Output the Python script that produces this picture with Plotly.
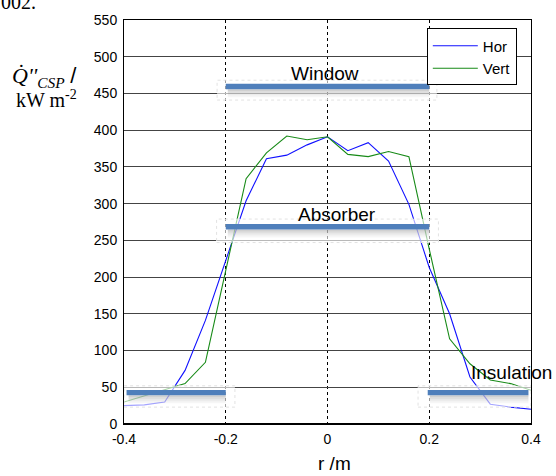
import plotly.graph_objects as go

# ---- data ----
r = [-0.4, -0.36, -0.32, -0.28, -0.24, -0.2, -0.16, -0.12, -0.08, -0.04, 0,
     0.04, 0.08, 0.12, 0.16, 0.2, 0.24, 0.28, 0.32, 0.36, 0.4]
hor = [25, 26, 30, 73, 141, 224, 304, 361, 366, 380, 391,
       372, 383, 358, 299, 213, 150, 64, 27, 23, 20]
vert = [30, 38, 46, 55, 84, 209, 334, 369, 392, 387, 391,
        367, 364, 371, 364, 238, 116, 82, 60, 55, 46]

bar_x0 = [-0.2, -0.2, -0.395, 0.197]
bar_x1 = [0.2, 0.2, -0.2, 0.395]
bar_y = [459.5, 268.6, 42.7, 42.7]

box_x0 = [-0.217, -0.218, -0.4, 0.178]
box_x1 = [0.215, 0.218, -0.182, 0.4]
box_y0 = [441, 247, 23, 23]
box_y1 = [468, 279, 52, 52]

label_text = ["Window", "Absorber", "Insulation"]
label_x = [-0.004, 0.018, 0.362]
label_y = [476.5, 285.5, 70]

x_ticks = [-0.4, -0.2, 0, 0.2, 0.4]
x_ticktext = ["-0.4", "-0.2", "0", "0.2", "0.4"]

fig = go.Figure()
fig.add_trace(go.Scatter(x=r, y=hor, mode="lines", name="Hor",
                         line=dict(color="#1010ff", width=1.1)))
fig.add_trace(go.Scatter(x=r, y=vert, mode="lines", name="Vert",
                         line=dict(color="#178a17", width=1.1)))

shapes = []
# semi-transparent white boxes (pasted images)
for x0, x1, y0, y1 in zip(box_x0, box_x1, box_y0, box_y1):
    shapes.append(dict(type="rect", xref="x", yref="y", x0=x0, x1=x1, y0=y0, y1=y1,
                       fillcolor="rgba(255,255,255,0.62)",
                       line=dict(color="#e2e2e2", width=1, dash="dot"), layer="above"))
# bars with soft shadow
half = 3.7
px = 1.355
for x0, x1, y in zip(bar_x0, bar_x1, bar_y):
    for k, op in enumerate([0.32, 0.22, 0.13, 0.06]):
        shapes.append(dict(type="rect", xref="x", yref="y", x0=x0 + 0.004, x1=x1,
                           y0=y - half - (k + 1) * 2 * px, y1=y - half - k * 2 * px,
                           fillcolor=f"rgba(110,110,110,{op})", line=dict(width=0),
                           layer="above"))
    shapes.append(dict(type="rect", xref="x", yref="y", x0=x0, x1=x1,
                       y0=y - half, y1=y + half,
                       fillcolor="#4f7fbb", line=dict(width=0), layer="above"))
# thick bottom axis
shapes.append(dict(type="line", xref="paper", yref="paper", x0=0, x1=1, y0=0, y1=0,
                   line=dict(color="black", width=2), layer="above"))

annotations = []
for t, x, y in zip(label_text, label_x, label_y):
    annotations.append(dict(text=t, x=x, y=y, xref="x", yref="y", showarrow=False,
                            xanchor="center", yanchor="middle",
                            font=dict(family="Liberation Sans, Arial", size=19, color="black")))

# y axis title (two lines)
annotations.append(dict(text="<i>Q̇''<sub>CSP</sub></i> <span style='font-family:Liberation Sans'>/</span>",
                        xref="paper", yref="paper", x=-0.195, y=0.86,
                        xanchor="center", yanchor="middle", showarrow=False,
                        font=dict(family="Liberation Serif, Times New Roman", size=22, color="black")))
annotations.append(dict(text="kW m<sup>-2</sup>",
                        xref="paper", yref="paper", x=-0.19, y=0.805,
                        xanchor="center", yanchor="middle", showarrow=False,
                        font=dict(family="Liberation Serif, Times New Roman", size=20, color="black")))
# x axis title
annotations.append(dict(text="r /m", xref="paper", yref="paper", x=0.516, y=-0.098,
                        xanchor="center", yanchor="middle", showarrow=False,
                        font=dict(family="Liberation Sans, Arial", size=19, color="black")))
# clipped text fragment at page top
annotations.append(dict(text="002.", xref="paper", yref="paper", x=-0.212, y=1.012,
                        xanchor="right", yanchor="bottom", showarrow=False,
                        font=dict(family="Liberation Serif, Times New Roman", size=20, color="black")))

fig.update_layout(
    width=556, height=476,
    margin=dict(l=124, r=25, t=18, b=52),
    paper_bgcolor="white", plot_bgcolor="white",
    font=dict(family="Liberation Sans, Arial", size=14, color="black"),
    shapes=shapes, annotations=annotations,
    showlegend=True,
    legend=dict(x=0.744, y=0.979, xanchor="left", yanchor="top",
                bordercolor="black", borderwidth=1, bgcolor="white",
                font=dict(size=15), itemwidth=45, tracegroupgap=0),
    xaxis=dict(range=[-0.4, 0.4], tickvals=x_ticks, ticktext=x_ticktext,
               showgrid=True, gridcolor="black", griddash="dot", gridwidth=1,
               zeroline=False, showline=True, linecolor="black", linewidth=1,
               mirror=True, ticks="", ticklabelstandoff=2,
               tickfont=dict(size=14)),
    yaxis=dict(range=[0, 550], dtick=50, tick0=0,
               showgrid=True, gridcolor="#444444", gridwidth=1,
               zeroline=False, showline=True, linecolor="black", linewidth=1,
               mirror=True, ticks="", ticklabelstandoff=3,
               tickfont=dict(size=14)),
)

fig.write_html("out.html")
